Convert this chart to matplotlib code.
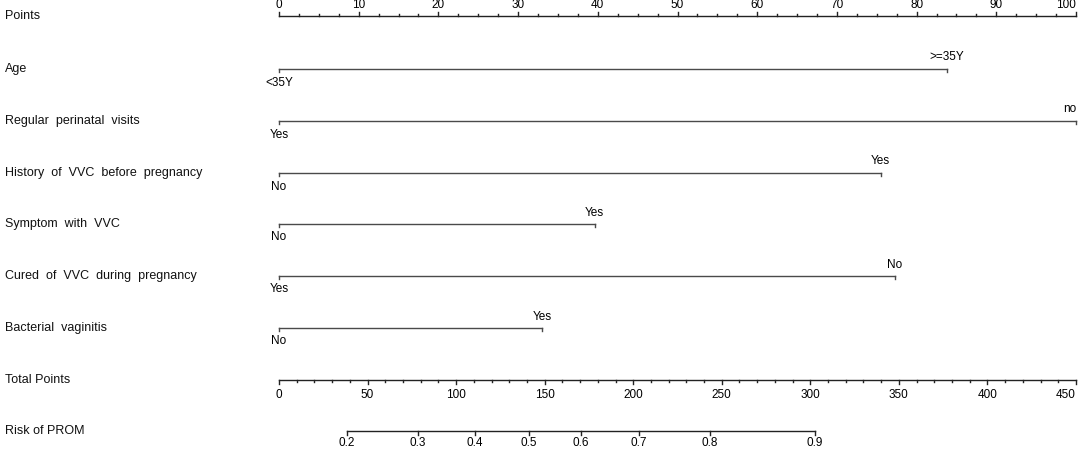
import numpy as np
import matplotlib.pyplot as plt
import matplotlib.transforms as mtransforms

plt.rcParams['font.family'] = ['Liberation Sans', 'DejaVu Sans']

# nomogram content
row_names = ["Points", "Age", "Regular  perinatal  visits", "History  of  VVC  before  pregnancy",
             "Symptom  with  VVC", "Cured  of  VVC  during  pregnancy", "Bacterial  vaginitis",
             "Total Points", "Risk of PROM"]
row_y = [16, 69, 121, 173, 224, 276, 328, 380, 431]  # vertical layout, pixels from top

low_labels = ["<35Y", "Yes", "No", "No", "Yes", "No"]
high_labels = [">=35Y", "no", "Yes", "Yes", "No", "Yes"]
high_points = [83.8, 100, 75.5, 39.6, 77.3, 33.0]

risk_labels = ["0.2", "0.3", "0.4", "0.5", "0.6", "0.7", "0.8", "0.9"]
risk_total = [38.4, 78.5, 110.7, 141.2, 170.5, 203.3, 243.1, 302.6]

W, H = 1084, 450
fig = plt.figure(figsize=(W / 100, H / 100), dpi=100)
ax = fig.add_axes([279 / W, 0, 797 / W, 1])
ax.set_xlim(0, 100)
ax.set_ylim(H, 0)
ax.axis('off')
ax2 = ax.twiny()
ax2.set_xlim(0, 450)
ax2.axis('off')

axc = '#222222'
linec = '#4a4a4a'
fs_row = 9
fs_tick = 8.5

# row names on the left
lab_tr = mtransforms.blended_transform_factory(fig.transFigure, ax.transData)
for name, y in zip(row_names, row_y):
    ax.text(5 / W, y, name, transform=lab_tr, ha='left', va='center', fontsize=fs_row, color='#111111')

# Points axis (labels above, ticks up)
y = row_y[0]
ax.plot([0, 100], [y, y], color=axc, lw=1, clip_on=False)
for t in np.arange(0, 100.1, 2.5):
    major = abs(t % 10) < 1e-9
    ax.plot([t, t], [y, y - (4 if major else 2)], color=axc, lw=1, clip_on=False)
    if major:
        ax.text(t, y - 5, f"{int(t)}", ha='right' if t == 100 else 'center', va='bottom',
                fontsize=fs_tick)

# variable lines
for i in range(6):
    y = row_y[i + 1]
    hp = high_points[i]
    ax.plot([0, hp], [y, y], color=linec, lw=1, clip_on=False)
    ax.plot([0, 0], [y, y + 3], color=linec, lw=1, clip_on=False)
    ax.plot([hp, hp], [y, y + 3], color=linec, lw=1, clip_on=False)
    ax.text(0, y + 7.5, low_labels[i], ha='center', va='top', fontsize=fs_tick)
    ax.text(hp, y - 5.5, high_labels[i], ha='right' if hp == 100 else 'center', va='bottom',
            fontsize=fs_tick)

# Total points axis (labels below, ticks down)
y = row_y[7]
ax2.plot([0, 450], [y, y], color=axc, lw=1, clip_on=False)
for t in np.arange(0, 451, 10):
    major = t % 50 == 0
    ax2.plot([t, t], [y, y + (4 if major else 2)], color=axc, lw=1, clip_on=False)
    if major:
        ax2.text(t, y + 8.5, f"{int(t)}", ha='right' if t == 450 else 'center', va='top',
                 fontsize=fs_tick)

# Risk axis
y = row_y[8]
ax2.plot([risk_total[0], risk_total[-1]], [y, y], color=axc, lw=1, clip_on=False)
for t, lab in zip(risk_total, risk_labels):
    ax2.plot([t, t], [y, y + 4], color=axc, lw=1, clip_on=False)
    ax2.text(t, y + 6.5, lab, ha='center', va='top', fontsize=fs_tick)

fig.savefig('out.png', dpi=100, facecolor='white')
